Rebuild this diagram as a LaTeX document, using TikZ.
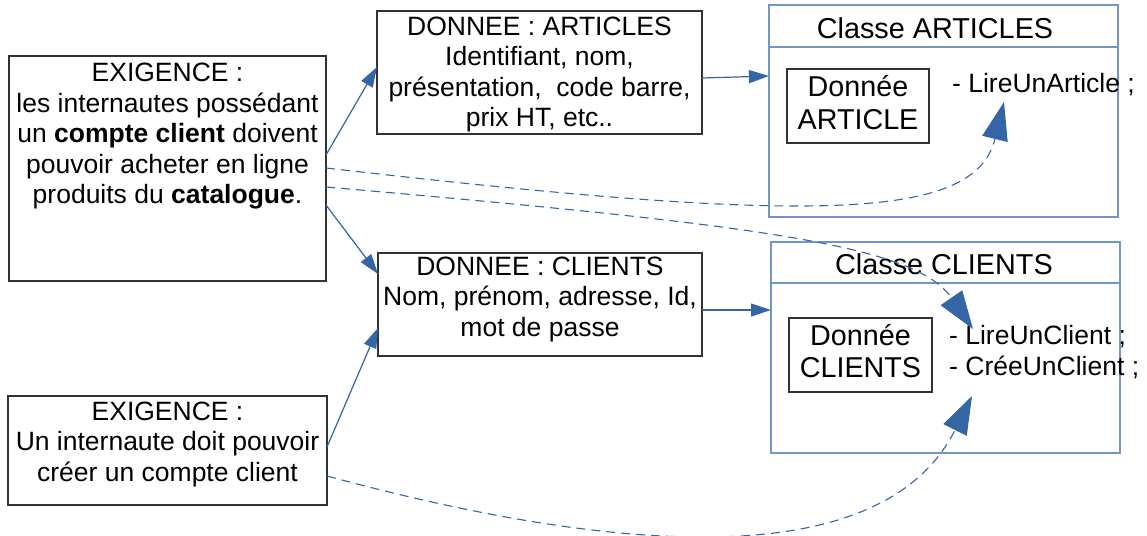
\documentclass[tikz,border=0pt]{standalone}
\usepackage{fontspec}
\setmainfont{Liberation Sans}
\usetikzlibrary{arrows.meta}
\definecolor{linkblue}{RGB}{52,101,164}
\definecolor{classblue}{RGB}{114,150,204}
\definecolor{boxgray}{RGB}{50,50,50}
\tikzset{
  box/.style={draw=boxgray, line width=1.3pt, inner sep=0pt, outer sep=0pt},
  classbox/.style={draw=classblue, line width=1.3pt, inner sep=0pt, outer sep=0pt},
  txt/.style={inner sep=0pt, align=center, anchor=north, font=\fontsize{26.5}{30.5}\selectfont},
  bigtxt/.style={inner sep=0pt, align=center, anchor=north, font=\fontsize{28.7}{32.8}\selectfont},
  headtxt/.style={inner sep=0pt, anchor=base, font=\fontsize{28.8}{33}\selectfont},
  methtxt/.style={inner sep=0pt, align=left, anchor=north west, font=\fontsize{26.5}{30.5}\selectfont},
  flow/.style={draw=linkblue, line width=1.2pt, -{Triangle[length=20pt,width=13pt]}},
  trace/.style={draw=linkblue, line width=1.1pt, dash pattern=on 9pt off 6pt,
    -{Triangle[length=38pt,width=26pt]}},
}
\begin{document}
\begin{tikzpicture}[x=1pt,y=-1pt]
\useasboundingbox (0,0) rectangle (1147,535);

% requirement boxes
\node[box, minimum width=317pt, minimum height=225pt] (e1) at (167.5,168.5) {};
\node[txt] (e1t) at (167.5,60.4) {\strut EXIGENCE :\\\strut les internautes possédant\\\strut un \textbf{compte client} doivent\\\strut pouvoir acheter en ligne\\\strut produits du \textbf{catalogue}.};
\node[box, minimum width=319pt, minimum height=109pt] (e2) at (167.5,450.5) {};
\node[txt] (e2t) at (167.5,398.7) {\strut EXIGENCE :\\\strut Un internaute doit pouvoir\\\strut créer un compte client};

% data boxes
\node[box, minimum width=325pt, minimum height=123pt] (da) at (539.5,72.5) {};
\node[txt] (dat) at (539.5,13.7) {\strut DONNEE : ARTICLES\\\strut Identifiant, nom,\\\strut présentation,~ code barre,\\\strut prix HT, etc..};
\node[box, minimum width=324pt, minimum height=103pt] (dc) at (540,304.5) {};
\node[txt] (dct) at (540,253.7) {\strut DONNEE : CLIENTS\\\strut Nom, prénom, adresse, Id,\\\strut mot de passe};

% class ARTICLES
\node[classbox, minimum width=349pt, minimum height=212pt] (ca) at (943.5,111) {};
\draw[classblue, line width=1.3pt] (ca.west |- 0,47) -- (ca.east |- 0,47);
\node[headtxt] (cah) at (935,39) {Classe ARTICLES};
\node[box, minimum width=142pt, minimum height=74pt] (cad) at (858,106) {};
\node[bigtxt] (cadt) at (858,73.7) {\strut Donnée\\\strut ARTICLE};
\node[methtxt] (cam) at (952,71.4) {\strut - LireUnArticle ;};

% class CLIENTS
\node[classbox, minimum width=349pt, minimum height=211pt] (cc) at (945.5,347.5) {};
\draw[classblue, line width=1.3pt] (cc.west |- 0,283) -- (cc.east |- 0,283);
\node[headtxt] (cch) at (944,274) {Classe CLIENTS};
\node[box, minimum width=143pt, minimum height=74pt] (ccd) at (860.5,355) {};
\node[bigtxt] (ccdt) at (860.5,322) {\strut Donnée\\\strut CLIENTS};
\node[methtxt] (ccm) at (949,323) {\strut - LireUnClient ;\\\strut - CréeUnClient ;};

% targets of the traceability links
\coordinate (ta) at (1004,102);
\coordinate (tb) at (973,329);
\coordinate (tc) at (972,396);

% data flow
\draw[flow] ([yshift=-99pt]e1.north east) -- ([yshift=-56pt]da.north west);
\draw[flow] ([yshift=-149pt]e1.north east) -- ([yshift=-21pt]dc.north west);
\draw[flow] ([yshift=-51pt]e2.north east) -- ([yshift=-75pt]dc.north west);
\draw[flow] ([yshift=-67pt]da.north east) -- ([yshift=-71pt]ca.north west);
\draw[flow] ([yshift=-57pt]dc.north east) -- ([yshift=-68pt]cc.north west);

% traceability links
\draw[trace] ([yshift=-112pt]e1.north east) .. controls (820,225) and (975,220) .. (ta);
\draw[trace] ([yshift=-131pt]e1.north east) .. controls (760,225) and (915,245) .. (tb);
\draw[trace] ([yshift=-80pt]e2.north east) .. controls (600,550) and (880,580) .. (tc);
\end{tikzpicture}
\end{document}
